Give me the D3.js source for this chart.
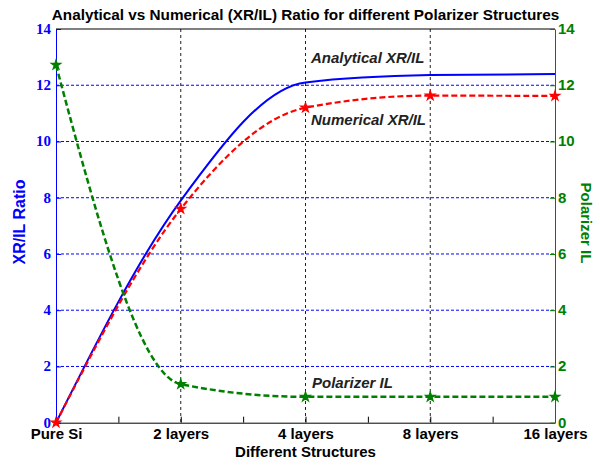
<!DOCTYPE html>
<html>
<head>
<meta charset="utf-8">
<script src="https://cdn.jsdelivr.net/npm/d3@7"></script>
<style>
  body { margin: 0; background: #fff; }
  text { font-family: "Liberation Sans", Arial, sans-serif; }
</style>
</head>
<body>
<div id="chart"></div>
<script>
// chart values
var categories = ["Pure Si", "2 layers", "4 layers", "8 layers", "16 layers"];
var analytical = [0, 7.9, 12.1, 12.36, 12.4];
var numerical = [0, 7.6, 11.2, 11.63, 11.62];
var polarizerIL = [12.72, 1.37, 0.92, 0.92, 0.92];
var yTicks = [0, 2, 4, 6, 8, 10, 12, 14];
var xTicks = [0, 0.5, 1, 1.5, 2, 2.5, 3, 3.5, 4];

var svgWidth = 600;
var svgHeight = 466;

var margin = { top: 29, right: 45, bottom: 43.3, left: 56 };
var width = svgWidth - margin.left - margin.right;
var height = svgHeight - margin.top - margin.bottom;

var svg = d3.select("#chart")
  .append("svg")
  .attr("width", svgWidth)
  .attr("height", svgHeight);

var chartGroup = svg.append("g")
  .attr("transform", `translate(${margin.left}, ${margin.top})`);

var xScale = d3.scaleLinear().domain([0, 4]).range([0, width]);
var yLeft = d3.scaleLinear().domain([0, 14]).range([height, 0]);
var yRight = d3.scaleLinear().domain([0, 14]).range([height, 0]);

// grid lines
chartGroup.append("g")
  .selectAll("line")
  .data(yTicks.filter(d => d > 0 && d < 14))
  .enter()
  .append("line")
  .attr("x1", 0)
  .attr("x2", width)
  .attr("y1", d => yLeft(d))
  .attr("y2", d => yLeft(d))
  .attr("stroke", "#0000ff")
  .attr("stroke-width", 1)
  .attr("stroke-dasharray", "3,2");

chartGroup.append("g")
  .selectAll("line")
  .data([1, 2, 3])
  .enter()
  .append("line")
  .attr("x1", d => xScale(d))
  .attr("x2", d => xScale(d))
  .attr("y1", 0)
  .attr("y2", height)
  .attr("stroke", "#222")
  .attr("stroke-width", 1)
  .attr("stroke-dasharray", "3,3");

// top border
chartGroup.append("line")
  .attr("x1", 0).attr("x2", width)
  .attr("y1", 0).attr("y2", 0)
  .attr("stroke", "#000");

// axes
var bottomAxis = d3.axisBottom(xScale)
  .tickValues(xTicks)
  .tickSizeInner(-6)
  .tickSizeOuter(0)
  .tickPadding(6)
  .tickFormat(d => Number.isInteger(d) ? categories[d] : "");

var xAxis = chartGroup.append("g")
  .attr("transform", `translate(0, ${height})`)
  .call(bottomAxis);
xAxis.selectAll("path, line").attr("stroke", "#000");
xAxis.selectAll("text")
  .attr("fill", "#000")
  .style("font-size", "15px")
  .style("font-weight", "bold");

var leftAxis = chartGroup.append("g")
  .call(d3.axisLeft(yLeft).tickValues(yTicks).tickSizeInner(-5).tickSizeOuter(0).tickPadding(5));
leftAxis.selectAll("path, line").attr("stroke", "#0000ff");
leftAxis.selectAll("text")
  .attr("fill", "#0000ff")
  .attr("dy", "0.3em")
  .style("font-family", "'Liberation Serif', 'Times New Roman', serif")
  .style("font-size", "15px")
  .style("font-weight", "bold");

var rightAxis = chartGroup.append("g")
  .attr("transform", `translate(${width}, 0)`)
  .call(d3.axisRight(yRight).tickValues(yTicks).tickSizeInner(-5).tickSizeOuter(0).tickPadding(3));
rightAxis.selectAll("path, line").attr("stroke", "#008000");
rightAxis.selectAll("text")
  .attr("fill", "#008000")
  .attr("dy", "0.3em")
  .style("font-family", "'Liberation Sans Narrow', 'Arial Narrow', sans-serif")
  .style("font-size", "15px")
  .style("font-weight", "bold");

// lines
function makeLine(yScale) {
  return d3.line()
    .x((d, i) => xScale(i))
    .y(d => yScale(d))
    .curve(d3.curveMonotoneX);
}

chartGroup.append("path")
  .datum(analytical)
  .attr("d", makeLine(yLeft))
  .attr("fill", "none")
  .attr("stroke", "#0000ff")
  .attr("stroke-width", 2);

chartGroup.append("path")
  .datum(numerical)
  .attr("d", makeLine(yLeft))
  .attr("fill", "none")
  .attr("stroke", "#ff0000")
  .attr("stroke-width", 2.2)
  .attr("stroke-dasharray", "6,3");

chartGroup.append("path")
  .datum(polarizerIL)
  .attr("d", makeLine(yRight))
  .attr("fill", "none")
  .attr("stroke", "#008000")
  .attr("stroke-width", 2.5)
  .attr("stroke-dasharray", "6,3");

var star = d3.symbol().type(d3.symbolStar).size(28);

chartGroup.selectAll(".redStar")
  .data(numerical)
  .enter()
  .append("path")
  .attr("class", "redStar")
  .attr("d", star)
  .attr("transform", (d, i) => `translate(${xScale(i)}, ${yLeft(d)})`)
  .attr("fill", "#ff0000")
  .attr("stroke", "#ff0000")
  .attr("stroke-width", 1.2);

chartGroup.selectAll(".greenStar")
  .data(polarizerIL)
  .enter()
  .append("path")
  .attr("class", "greenStar")
  .attr("d", star)
  .attr("transform", (d, i) => `translate(${xScale(i)}, ${yRight(d)})`)
  .attr("fill", "#008000")
  .attr("stroke", "#008000")
  .attr("stroke-width", 1.2);

// annotations
svg.append("text")
  .attr("x", 311).attr("y", 63)
  .style("font-size", "15px")
  .style("font-style", "italic")
  .style("font-weight", "bold")
  .attr("fill", "#222")
  .text("Analytical XR/IL");

svg.append("text")
  .attr("x", 311).attr("y", 125)
  .style("font-size", "15px")
  .style("font-style", "italic")
  .style("font-weight", "bold")
  .attr("fill", "#222")
  .text("Numerical XR/IL");

svg.append("text")
  .attr("x", 312).attr("y", 388)
  .style("font-size", "15px")
  .style("font-style", "italic")
  .style("font-weight", "bold")
  .attr("fill", "#222")
  .text("Polarizer IL");

// titles
svg.append("text")
  .attr("x", margin.left + width / 2)
  .attr("y", 20)
  .attr("text-anchor", "middle")
  .style("font-size", "15.3px")
  .style("font-weight", "bold")
  .attr("fill", "#000")
  .text("Analytical vs Numerical (XR/IL) Ratio for different Polarizer Structures");

svg.append("text")
  .attr("x", margin.left + width / 2)
  .attr("y", 457)
  .attr("text-anchor", "middle")
  .style("font-size", "15px")
  .style("font-weight", "bold")
  .attr("fill", "#000")
  .text("Different Structures");

svg.append("text")
  .attr("transform", "translate(25, 222) rotate(-90)")
  .attr("text-anchor", "middle")
  .style("font-size", "16px")
  .style("font-weight", "bold")
  .attr("fill", "#0000ff")
  .text("XR/IL Ratio");

svg.append("text")
  .attr("transform", "translate(581, 223) rotate(90)")
  .attr("text-anchor", "middle")
  .style("font-size", "15px")
  .style("font-weight", "bold")
  .attr("fill", "#008000")
  .text("Polarizer IL");
</script>
</body>
</html>
